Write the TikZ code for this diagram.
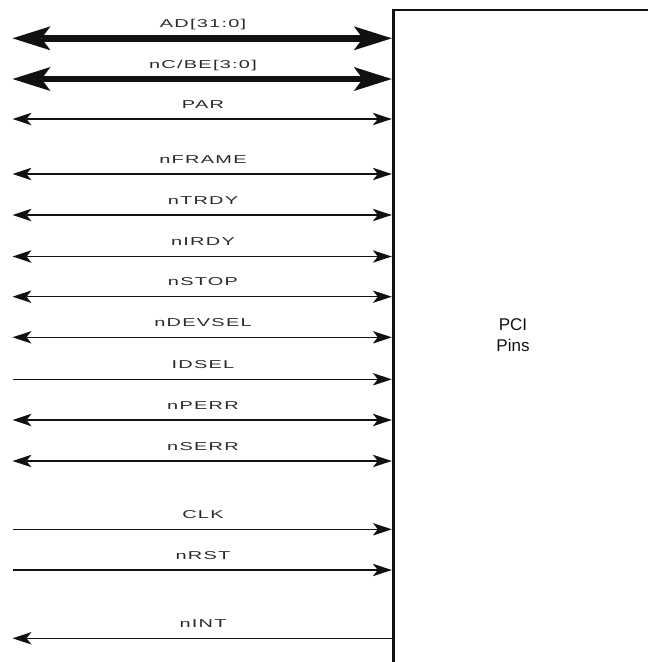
\documentclass[tikz,border=0pt]{standalone}
\usepackage{fontspec}
\setmainfont{Liberation Sans}
\newfontfamily\sigfont[FakeStretch=1.75,LetterSpace=11]{Liberation Sans}
\usetikzlibrary{arrows.meta}
\definecolor{ink}{HTML}{111111}
\definecolor{txt}{HTML}{2A2A2A}
\tikzset{
  thintip/.tip={Stealth[length=19pt,width=12.5pt,inset=5pt,line width=0pt]},
  thicktip/.tip={Stealth[length=38pt,width=24pt,inset=9pt,line width=0pt]},
  thinbus/.style={line width=1.5pt, draw=ink},
  thickbus/.style={line width=6.5pt, draw=ink},
  siglabel/.style={font=\sigfont\fontsize{11.4}{13}\selectfont, text=txt, anchor=base, inner sep=0pt},
  boxline/.style={draw=ink},
  boxtext/.style={font=\fontsize{17}{20.5}\selectfont, text=ink, align=center, inner sep=0pt}
}
\begin{document}
\begin{tikzpicture}[x=1pt,y=-1pt]
\useasboundingbox (0,0) rectangle (648,662);
\clip (0,0) rectangle (648,662);
% box
\coordinate (boxtl) at (393.3,10);
\coordinate (boxbl) at (393.3,680);
\coordinate (boxtr) at (680,10);
\draw[boxline,line width=3pt] (boxbl) -- ([yshift=1pt]boxtl);
\draw[boxline,line width=2pt] (boxtl) -- (boxtr);
\node[boxtext] (pci) at (513,335) {PCI\\Pins};
% signal end points
\foreach \n/\y in {ad/38.3,cbe/79,par/119,frame/174,trdy/215,irdy/256.5,stop/296.7,devsel/337.3,idsel/379.3,perr/420,serr/461,clk/529.3,rst/570,int/638.3}{
  \coordinate (\n L) at (12.5,\y);
  \coordinate (\n R) at (391.8,\y);
}
% labels
\foreach \n/\t/\y in {ad/{AD[31:0]}/38.3,cbe/{nC/BE[3:0]}/79,par/PAR/119,frame/nFRAME/174,trdy/nTRDY/215,irdy/nIRDY/256.5,stop/nSTOP/296.7,devsel/nDEVSEL/337.3,idsel/IDSEL/379.3,perr/nPERR/420,serr/nSERR/461,clk/CLK/529.3,rst/nRST/570,int/nINT/638.3}{
  \node[siglabel] (\n T) at (203,\y-10.8) {\t};
}
% connectors
\draw[thickbus,{thicktip}-{thicktip}] (adL) -- (adR);
\draw[thickbus,{thicktip}-{thicktip}] (cbeL) -- (cbeR);
\foreach \n in {par,frame,trdy,irdy,stop,devsel,perr,serr}{
  \draw[thinbus,{thintip}-{thintip}] (\n L) -- (\n R);
}
\foreach \n in {idsel,clk,rst}{
  \draw[thinbus,-{thintip}] (\n L) -- (\n R);
}
\draw[thinbus,{thintip}-] (intL) -- ([xshift=1.5pt]intR);
\end{tikzpicture}
\end{document}
